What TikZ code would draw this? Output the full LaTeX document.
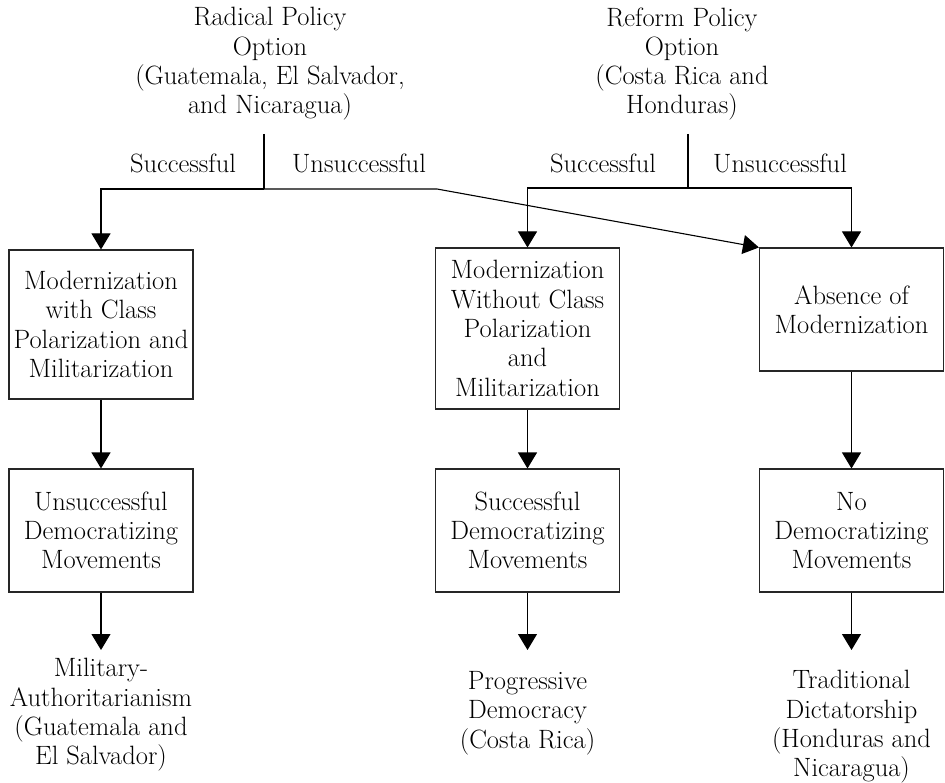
\documentclass[tikz,border=0pt]{standalone}
\usepackage{fontspec}
\usetikzlibrary{arrows.meta}
\begin{document}
\begin{tikzpicture}[x=1pt,y=-1pt,
  every node/.style={font=\fontsize{26.5}{29.3}\selectfont, align=center, inner sep=0pt},
  stage/.style={draw=black!85, line width=1.1pt, minimum width=184pt},
  link/.style={line width=1.1pt},
  flow/.style={line width=1.1pt, -{Triangle[width=19pt,length=16pt]}}]
\useasboundingbox (0,0) rectangle (945,783);

% policy options
\node (radical) at (270,64) {Radical Policy\\Option\\(Guatemala, El Salvador,\\and Nicaragua)};
\node (reform) at (682,64) {Reform Policy\\Option\\(Costa Rica and\\Honduras)};

% branch labels
\node (rsucc) at (183,163) {Successful};
\node (runsucc) at (359,163) {Unsuccessful};
\node (fsucc) at (603,163) {Successful};
\node (funsucc) at (780,163) {Unsuccessful};

% modernization stage
\node[stage, minimum height=149pt] (m1) at (101,324.5) {Modernization\\with Class\\Polarization and\\Militarization};
\node[stage, minimum height=161pt] (m2) at (527.5,328.5) {Modernization\\Without Class\\Polarization\\and\\Militarization};
\node[stage, minimum height=123pt] (m3) at (851.5,309.5) {Absence of\\Modernization};

% democratizing movements
\node[stage, minimum height=123pt] (d1) at (101,530.5) {Unsuccessful\\Democratizing\\Movements};
\node[stage, minimum height=123pt] (d2) at (527.5,530.5) {Successful\\Democratizing\\Movements};
\node[stage, minimum height=123pt] (d3) at (851.5,530.5) {No\\Democratizing\\Movements};

% regime outcomes
\node (o1) at (101,715) {Military-\\Authoritarianism\\(Guatemala and\\El Salvador)};
\node (o2) at (527.5,713) {Progressive\\Democracy\\(Costa Rica)};
\node (o3) at (851.5,727) {Traditional\\Dictatorship\\(Honduras and\\Nicaragua)};

% branching connectors
\coordinate (rs) at (264,134);
\coordinate (rj) at (264,189);
\coordinate (rbend) at (437,189);
\coordinate (fs) at (688,134);
\coordinate (fj) at (688,188);

\draw[link] (rs) -- (rj);
\draw[flow] (rj) -| (m1.north);
\draw[flow] (rj) -- (rbend) -- (m3.north west);

\draw[link] (fs) -- (fj);
\draw[flow] (fj) -| (m2.north);
\draw[flow] (fj) -| (m3.north);

% vertical flow
\draw[flow] (m1.south) -- (d1.north);
\draw[flow] (m2.south) -- (d2.north);
\draw[flow] (m3.south) -- (d3.north);

\coordinate (t1) at (101,650);
\coordinate (t2) at (527.5,650);
\coordinate (t3) at (851.5,650);
\draw[flow] (d1.south) -- (t1);
\draw[flow] (d2.south) -- (t2);
\draw[flow] (d3.south) -- (t3);
\end{tikzpicture}
\end{document}
